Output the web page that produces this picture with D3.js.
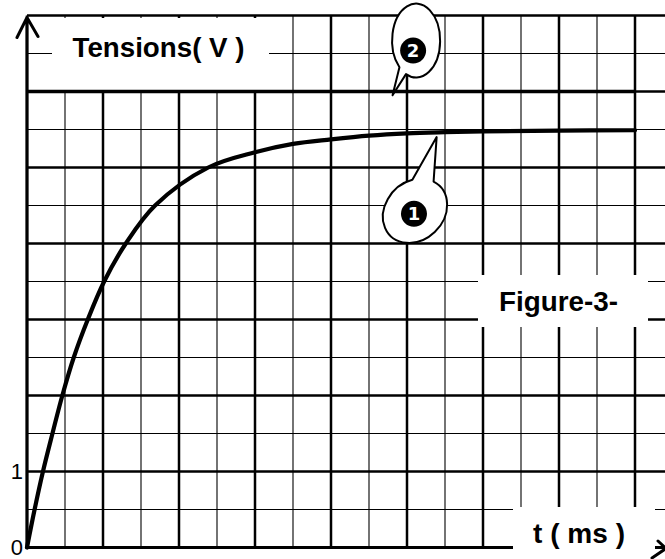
<!DOCTYPE html>
<html>
<head>
<meta charset="utf-8">
<script src="https://cdn.jsdelivr.net/npm/d3@7"></script>
<style>
  html, body { margin: 0; padding: 0; background: #fff; }
  svg { display: block; }
</style>
</head>
<body>
<svg id="chart" width="665" height="559"></svg>
<script>
// values (t in grid divisions, u in volts)
const tCurve1 = [0, 0.2, 0.42, 0.67, 0.93, 1.23, 1.6, 2.03, 2.6, 3.37, 4.77, 6, 7, 8, 9, 10, 11, 12, 14, 16];
const uCurve1 = [0, 0.5, 1, 1.5, 2, 2.5, 3, 3.5, 4, 4.5, 5, 5.2, 5.31, 5.37, 5.42, 5.45, 5.465, 5.475, 5.485, 5.49];
const tCurve2 = [0, 16];
const uCurve2 = [6, 6];
const yTickValues = [0, 1];
const yTickLabels = ["0", "1"];
const labels = ["Tensions( V )", "Figure-3-", "t ( ms )"];
const bubbleNames = ["1", "2"];

const width = 665, height = 559;
const svg = d3.select("#chart");

const x = d3.scaleLinear().domain([0, 16]).range([27, 635]);
const y = d3.scaleLinear().domain([0, 7]).range([547.5, 15.5]);

// grid
const grid = svg.append("g");
grid.selectAll("line.v")
  .data(d3.range(0, 18, 1))
  .join("line")
  .attr("x1", d => x(d)).attr("x2", d => x(d))
  .attr("y1", y(0)).attr("y2", y(7))
  .attr("stroke", "#000")
  .attr("stroke-width", d => d % 2 === 0 ? 2.5 : 1.1);

grid.selectAll("line.h")
  .data(d3.range(0, 7.01, 0.5))
  .join("line")
  .attr("x1", x(0)).attr("x2", width + 10)
  .attr("y1", d => y(d)).attr("y2", d => y(d))
  .attr("stroke", "#000")
  .attr("stroke-width", d => d % 1 === 0 ? 2.5 : 1.1);

// time axis (drawn under the label boxes)
svg.append("line")
  .attr("x1", x(0)).attr("y1", y(0))
  .attr("x2", width + 5).attr("y2", y(0))
  .attr("stroke", "#000")
  .attr("stroke-width", 3);

// white label boxes
const boxes = [
  { x: 52, y: 18, w: 217, h: 72, tx: 72.5, ty: 57, len: 172 },
  { x: 478, y: 275, w: 170, h: 52, tx: 499, ty: 311, len: 119 },
  { x: 513, y: 507, w: 142, h: 52, tx: 533, ty: 543, len: 92 }
];
boxes.forEach(b => {
  svg.append("rect")
    .attr("x", b.x).attr("y", b.y)
    .attr("width", b.w).attr("height", b.h)
    .attr("fill", "#fff");
});

// voltage axis with arrow, and arrow tip of time axis
const axes = svg.append("g")
  .attr("fill", "none")
  .attr("stroke", "#000")
  .attr("stroke-width", 3)
  .attr("stroke-linecap", "round")
  .attr("stroke-linejoin", "round");
axes.append("path")
  .attr("d", `M${x(0)},${y(0)}V${y(7) + 2}M${x(0) - 10},${y(7) + 22}L${x(0)},${y(7) + 2}L${x(0) + 11},${y(7) + 21}`);
axes.append("path")
  .attr("d", `M652,558L666,${y(0) + 1}M658,541L666,${y(0) + 1}`);

// curves
const line = d3.line()
  .x(d => x(d[0]))
  .y(d => y(d[1]))
  .curve(d3.curveCatmullRom.alpha(0.5));

svg.append("path")
  .datum(tCurve2.map((t, i) => [t, uCurve2[i]]))
  .attr("fill", "none")
  .attr("stroke", "#000")
  .attr("stroke-width", 3.6)
  .attr("d", line);

svg.append("path")
  .datum(tCurve1.map((t, i) => [t, uCurve1[i]]))
  .attr("fill", "none")
  .attr("stroke", "#000")
  .attr("stroke-width", 4.2)
  .attr("stroke-linecap", "round")
  .attr("d", line);

// labels
boxes.forEach((b, i) => {
  svg.append("text")
    .attr("x", b.tx).attr("y", b.ty)
    .attr("textLength", b.len)
    .attr("lengthAdjust", "spacingAndGlyphs")
    .attr("font-family", "'Liberation Sans', Arial, sans-serif")
    .attr("font-weight", "bold")
    .attr("font-size", 27)
    .attr("fill", "#000")
    .text(labels[i]);
});

svg.selectAll("text.tick")
  .data(yTickValues)
  .join("text")
  .attr("class", "tick")
  .attr("x", 23)
  .attr("y", d => y(d) + 7.5)
  .attr("text-anchor", "end")
  .attr("font-family", "'Liberation Sans', Arial, sans-serif")
  .attr("font-size", 22)
  .attr("fill", "#000")
  .text((d, i) => yTickLabels[i]);

// speech bubbles pointing at the curves
const bubbles = [
  { cx: 10.21, cy: 4.43, a: 35, b: 29, rot: -45, th1: -15, th2: -55, tipT: 10.78, tipU: 5.40, dx: -1, dy: 3 },
  { cx: 10.24, cy: 6.67, a: 24, b: 37, rot: 0, th1: 115, th2: 134, tipT: 9.62, tipU: 5.95, dx: -3, dy: 10 }
];

bubbles.forEach((bb, i) => {
  const cx = x(bb.cx), cy = y(bb.cy);
  const phi = bb.rot * Math.PI / 180;
  const pt = deg => {
    const th = deg * Math.PI / 180;
    const u = bb.a * Math.cos(th), v = bb.b * Math.sin(th);
    return [cx + Math.cos(phi) * u - Math.sin(phi) * v, cy + Math.sin(phi) * u + Math.cos(phi) * v];
  };
  // go the long way round the ellipse (increasing angle), then out to the tail tip
  let s = bb.th1, e = bb.th2;
  if ((((e - s) % 360) + 360) % 360 < 180) { s = bb.th2; e = bb.th1; }
  const p1 = pt(s), p2 = pt(e);
  svg.append("path")
    .attr("d", `M${p1[0]},${p1[1]}A${bb.a},${bb.b} ${bb.rot} 1 1 ${p2[0]},${p2[1]}L${x(bb.tipT)},${y(bb.tipU)}Z`)
    .attr("fill", "#fff")
    .attr("stroke", "#000")
    .attr("stroke-width", 2)
    .attr("stroke-linejoin", "round");
  svg.append("circle")
    .attr("cx", cx + bb.dx).attr("cy", cy + bb.dy)
    .attr("r", 13)
    .attr("fill", "#000");
  svg.append("text")
    .attr("x", cx + bb.dx).attr("y", cy + bb.dy + 6.5)
    .attr("text-anchor", "middle")
    .attr("font-family", "'DejaVu Sans', sans-serif")
    .attr("font-weight", "bold")
    .attr("font-size", 18)
    .attr("fill", "#fff")
    .text(bubbleNames[i]);
});
</script>
</body>
</html>
